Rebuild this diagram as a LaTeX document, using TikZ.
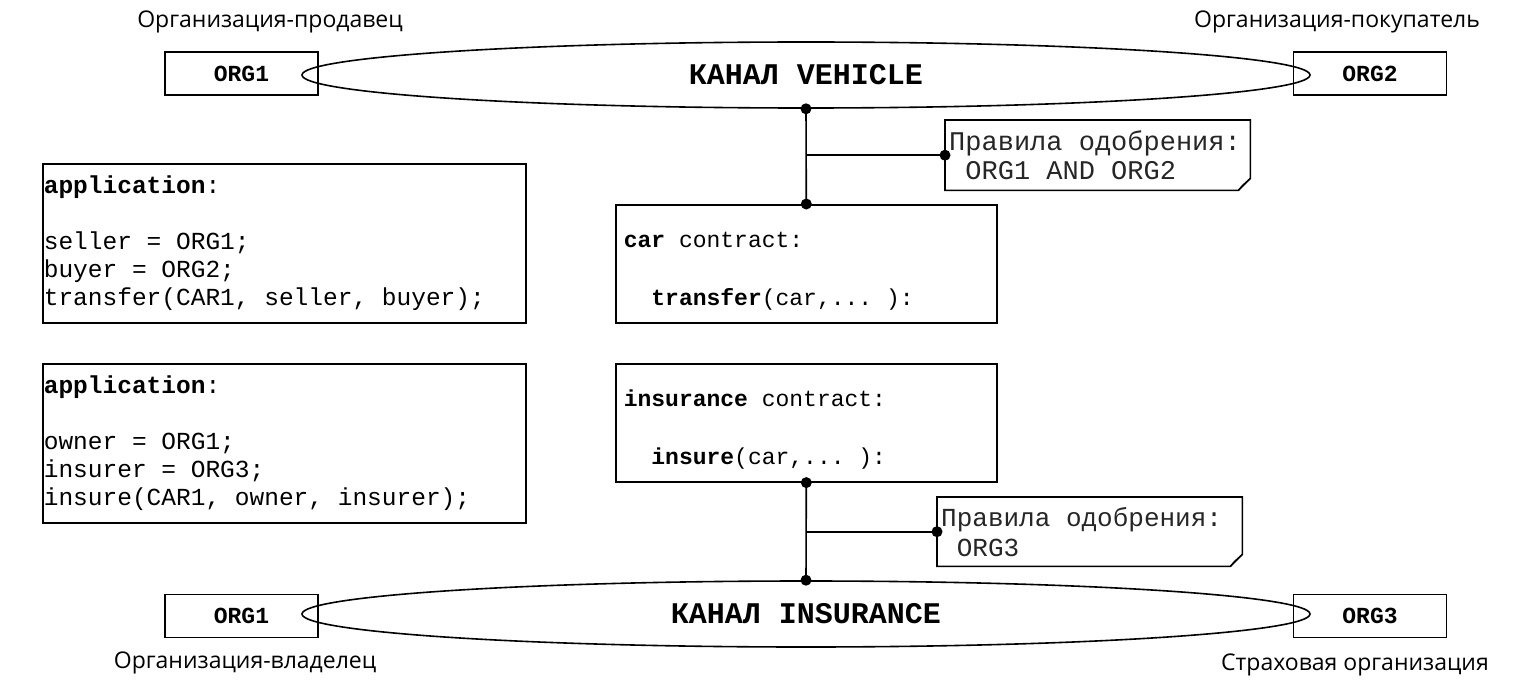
\documentclass[tikz,border=0pt]{standalone}
\usepackage{fontspec}
\setmainfont{Open Sans}
\setmonofont{Liberation Mono}
\usetikzlibrary{shapes.geometric}
\newcommand\monosp{\fontdimen2\font=0.6em\fontdimen3\font=0pt\fontdimen4\font=0pt}
\newcommand\fixsp{\spaceskip=0.6em\relax\xspaceskip=0.6em\relax}
\tikzset{
  conn/.style={line width=1.6pt},
  orgbox/.style={draw, line width=1.6pt, minimum width=153pt, minimum height=43pt, inner sep=0pt,
    font=\ttfamily\bfseries\fontsize{23}{27}\selectfont\monosp},
  chan/.style={draw, ellipse, line width=1.6pt, minimum width=1008pt, minimum height=66pt, inner sep=0pt,
    font=\ttfamily\bfseries\fontsize{30}{34}\selectfont\monosp},
  appbox/.style={draw, line width=1.6pt, anchor=north west, align=left, text width=481pt, inner xsep=1pt,
    minimum height=159pt, font=\ttfamily\fontsize{24.5}{28}\selectfont\monosp},
  ctbox/.style={draw, line width=1.6pt, anchor=north west, align=left, text width=365pt, inner xsep=8pt,
    minimum height=118pt, font=\ttfamily\fontsize{23}{29}\selectfont\monosp},
  notetext/.style={anchor=north west, align=left, inner xsep=4pt, inner ysep=0pt, text=black!85},
  lbl/.style={font=\fontsize{23}{27}\selectfont},
  dot/.style={circle, fill, inner sep=0pt, minimum size=11pt},
}
\begin{document}
\begin{tikzpicture}[x=1pt,y=-1pt]
\useasboundingbox (0,0) rectangle (1533,690);

% top channel
\node[orgbox] (o1) at (241.5,73.5) {ORG1};
\node[orgbox] (o2) at (1370,73.5) {ORG2};
\node[chan] (veh) at (806,75) {КАНАЛ VEHICLE};
\node[lbl] (l1) at (270,22) {Организация-продавец};
\node[lbl] (l2) at (1337,22) {Организация-покупатель};

% bottom channel
\node[orgbox] (o3) at (241.5,616) {ORG1};
\node[orgbox] (o4) at (1370,616) {ORG3};
\node[chan] (ins) at (806,614) {КАНАЛ INSURANCE};
\node[lbl] (l3) at (245,663) {Организация-владелец};
\node[lbl] (l4) at (1355,665) {Страховая организация};

% application boxes
\node[appbox] (a1) at (42,163) {\fixsp\textbf{application}:\\\mbox{}\\seller = ORG1;\\buyer = ORG2;\\transfer(CAR1, seller, buyer);};
\node[appbox] (a2) at (42,363) {\fixsp\textbf{application}:\\\mbox{}\\owner = ORG1;\\insurer = ORG3;\\insure(CAR1, owner, insurer);};

% contract boxes
\node[ctbox] (car) at (615,204) {\fixsp\rule{0pt}{30pt}\textbf{car} contract:\\\mbox{}\\\hspace*{1.2em}\textbf{transfer}(car,... ):};
\node[ctbox] (insc) at (615,363) {\fixsp\rule{0pt}{30pt}\textbf{insurance} contract:\\\mbox{}\\\hspace*{1.2em}\textbf{insure}(car,... ):};

% notes
\node[notetext, minimum width=305pt, minimum height=70pt, text width=297pt,
  font=\ttfamily\fontsize{27}{29}\selectfont\monosp] (n1) at (945,120) {\fixsp Правила одобрения:\\\hspace*{0.6em}ORG1 AND ORG2};
\draw[conn] (n1.north west) -- (n1.north east) -- ([yshift=12pt]n1.south east)
  -- ([xshift=-12pt]n1.south east) -- (n1.south west) -- cycle;
\draw[line width=1.2pt] ([yshift=12pt]n1.south east) -- ([xshift=-8pt,yshift=5pt]n1.south east) -- ([xshift=-12pt]n1.south east);

\node[notetext, minimum width=305pt, minimum height=69pt, text width=297pt,
  font=\ttfamily\fontsize{26}{30}\selectfont\monosp] (n2) at (937,497) {\fixsp Правила одобрения:\\\hspace*{0.6em}ORG3};
\draw[conn] (n2.north west) -- (n2.north east) -- ([yshift=12pt]n2.south east)
  -- ([xshift=-12pt]n2.south east) -- (n2.south west) -- cycle;
\draw[line width=1.2pt] ([yshift=12pt]n2.south east) -- ([xshift=-8pt,yshift=5pt]n2.south east) -- ([xshift=-12pt]n2.south east);

% connectors top
\coordinate (b1) at (veh.south |- n1.west);
\draw[conn] (veh.south) -- (car.north);
\draw[conn] (b1) -- (n1.west);
\node[dot] (d1) at (veh.south) {};
\node[dot] (d2) at (car.north) {};
\node[dot] (d3) at (n1.west) {};

% connectors bottom
\coordinate (b2) at (ins.north |- n2.west);
\draw[conn] (insc.south) -- (ins.north);
\draw[conn] (b2) -- (n2.west);
\node[dot] (d4) at (insc.south) {};
\node[dot] (d5) at (ins.north) {};
\node[dot] (d6) at (n2.west) {};
\end{tikzpicture}
\end{document}
